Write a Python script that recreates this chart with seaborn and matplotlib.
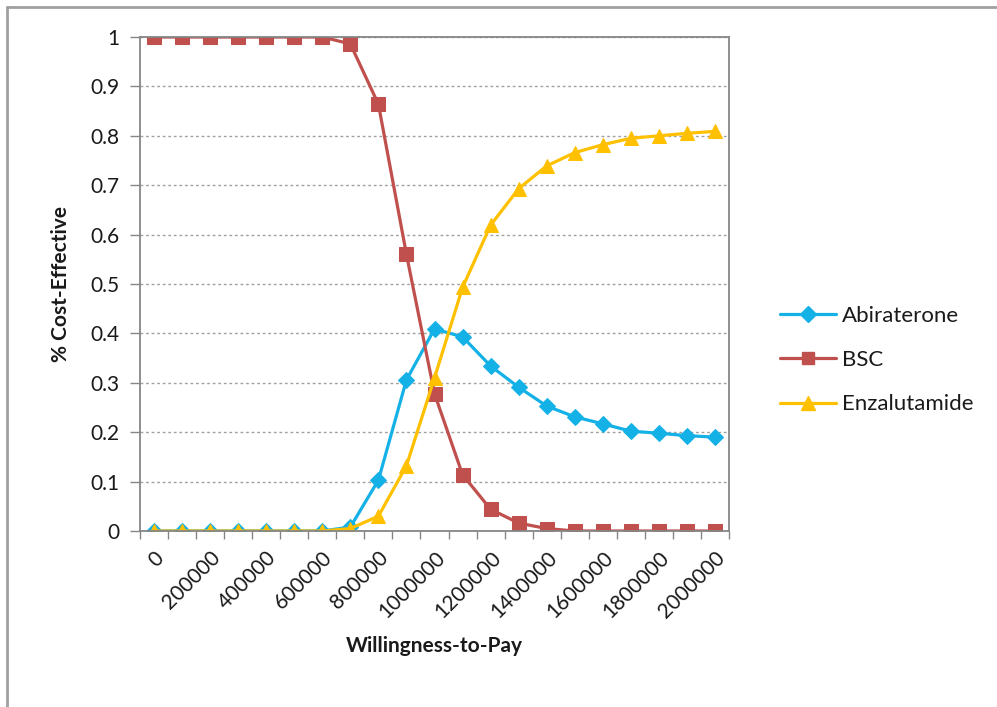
import matplotlib
matplotlib.use('Agg')
import matplotlib.pyplot as plt
import matplotlib.lines as mlines
from matplotlib.ticker import FixedLocator
import seaborn as sns
import pandas as pd

# willingness-to-pay grid
wtp = list(range(0, 2000001, 100000))

abiraterone = [0, 0, 0, 0, 0, 0, 0, 0.008, 0.103, 0.306, 0.409, 0.393, 0.334,
               0.291, 0.253, 0.231, 0.217, 0.202, 0.198, 0.193, 0.190]
bsc = [1, 1, 1, 1, 1, 1, 1, 0.986, 0.864, 0.56, 0.278, 0.114, 0.044,
       0.016, 0.005, 0, 0, 0, 0, 0, 0]
enzalutamide = [0, 0, 0, 0, 0, 0, 0, 0.005, 0.03, 0.132, 0.31, 0.493, 0.619,
                0.693, 0.739, 0.766, 0.782, 0.795, 0.800, 0.805, 0.809]

series_names = ['Abiraterone', 'BSC', 'Enzalutamide']
y_ticks = [i / 10 for i in range(11)]
y_ticklabels = ['0', '0.1', '0.2', '0.3', '0.4', '0.5', '0.6', '0.7', '0.8', '0.9', '1']
x_ticks = list(range(0, 2000001, 200000))

colors = {'Abiraterone': '#14B1E7', 'BSC': '#C0504D', 'Enzalutamide': '#FFC000'}
markers = {'Abiraterone': 'D', 'BSC': 's', 'Enzalutamide': '^'}
msizes = {'Abiraterone': 8.5, 'BSC': 10, 'Enzalutamide': 10.5}

df = pd.DataFrame({
    'wtp': wtp * 3,
    'value': abiraterone + bsc + enzalutamide,
    'series': [s for s in series_names for _ in wtp],
})

sns.set_style('white')
plt.rcParams['font.family'] = ['Lato', 'DejaVu Sans']

fig = plt.figure(figsize=(9.97, 7.07), dpi=100)
ax = fig.add_axes([140 / 997, 1 - 531 / 707, (729 - 140) / 997, (531 - 37) / 707])

sns.lineplot(data=df, x='wtp', y='value', hue='series', style='series',
             palette=colors, markers=markers, dashes=False, linewidth=2.3,
             legend=False, ax=ax)

handles = []
for line, name in zip(ax.lines, series_names):
    c = colors[name]
    line.set_markeredgecolor(c)
    line.set_markerfacecolor(c)
    line.set_markersize(msizes[name])
    handles.append(mlines.Line2D([], [], color=c, lw=2.3, marker=markers[name],
                                 ms=msizes[name] * 0.9, mec=c, mfc=c, label=name))

gray = '#868686'
ax.set_xlim(-50000, 2050000)
ax.set_ylim(0, 1)
ax.set_yticks(y_ticks)
ax.set_yticklabels(y_ticklabels)
ax.grid(axis='y', color='#A0A0A0', linestyle=(0, (2, 2)), linewidth=1)
ax.set_axisbelow(True)

ax.set_xticks(x_ticks)
ax.set_xticklabels([str(v) for v in x_ticks], rotation=45, ha='right',
                   rotation_mode='anchor')
ax.xaxis.set_minor_locator(FixedLocator([v + 50000 for v in range(-100000, 2000001, 100000)]))
ax.tick_params(axis='x', which='major', length=0, pad=12, labelsize=15, labelcolor='#1a1a1a')
ax.tick_params(axis='x', which='minor', length=6, color=gray, width=1, direction='out',
               bottom=True)
ax.tick_params(axis='y', length=7, color=gray, width=1, direction='out', left=True,
               labelsize=15, pad=8, labelcolor='#1a1a1a')
for sp in ax.spines.values():
    sp.set_color(gray)
    sp.set_linewidth(1.3)

ax.set_xlabel('Willingness-to-Pay', fontsize=15, fontweight='bold', labelpad=10,
              color='#1a1a1a')
ax.set_ylabel('% Cost-Effective', fontsize=15, fontweight='bold', labelpad=14,
              color='#1a1a1a')

fig.legend(handles=handles, loc='center left', bbox_to_anchor=(760 / 997, 1 - 360 / 707),
           frameon=False, fontsize=16, labelspacing=1.1, handlelength=2.5,
           handletextpad=0.3, prop={'size': 16}, labelcolor='#1a1a1a')

# outer chart border (top and left only visible)
fig.add_artist(mlines.Line2D([7 / 997, 1], [1 - 7 / 707, 1 - 7 / 707],
                             transform=fig.transFigure, color='#A0A0A0', lw=2))
fig.add_artist(mlines.Line2D([7 / 997, 7 / 997], [0, 1 - 7 / 707],
                             transform=fig.transFigure, color='#A0A0A0', lw=2))

fig.savefig('out.png', dpi=100)
plt.close(fig)
